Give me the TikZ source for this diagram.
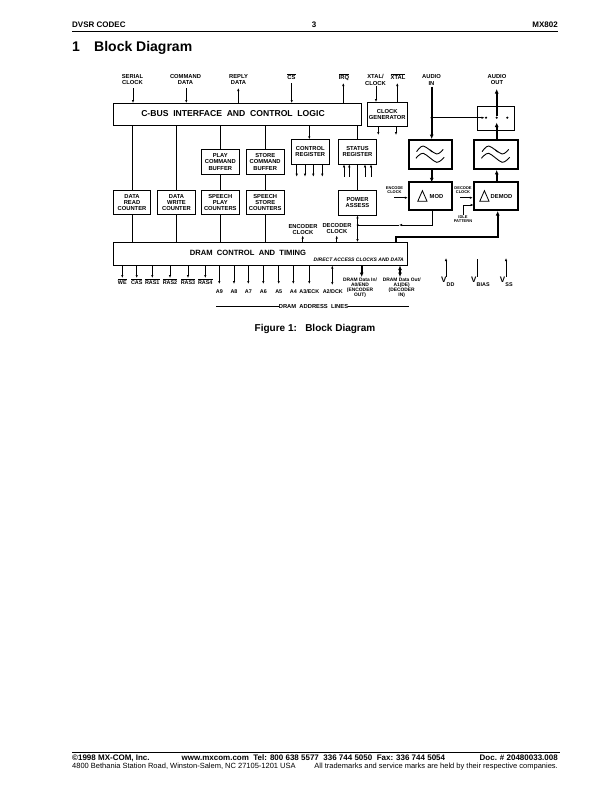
\documentclass[tikz,border=0pt]{standalone}
\usepackage{fontspec}
\setmainfont{Liberation Sans}
\usetikzlibrary{arrows.meta}
\newcommand{\ovbar}[1]{$\overline{\mbox{#1}}$}
\begin{document}
\begin{tikzpicture}[
    x=1pt, y=-1pt,
    tip/.tip={Latex[length=3pt,width=2.4pt]},
    bigtip/.tip={Latex[length=4.5pt,width=4pt]},
    block/.style={draw, line width=0.8pt, inner sep=0pt, align=center, font=\fontsize{5.8}{6.3}\selectfont\bfseries},
    thickblock/.style={draw, line width=1.8pt, inner sep=0pt},
    sig/.style={line width=0.6pt},
    sigfat/.style={line width=1.9pt},
    lab/.style={inner sep=0pt, align=center, font=\fontsize{5.8}{6.3}\selectfont\bfseries},
    tinylab/.style={inner sep=0pt, align=center, font=\fontsize{4}{4.6}\selectfont\bfseries},
    contact/.style={circle, fill=black, minimum size=2.4pt, inner sep=0pt},
    wavesym/.pic={
      \draw[line width=0.9pt] plot[smooth] coordinates {(-13.8,-2.8) (-7.2,-8.5) (6.2,-0.5) (12.8,-5.2)};
      \draw[line width=0.9pt] plot[smooth] coordinates {(-14.5,3.8) (-7.2,-1.2) (6.2,7.8) (13.8,2.8)};
      \draw[line width=0.9pt] (-0.5,-4.5) -- (2,-2.5);
    },
    deltasym/.pic={
      \draw[line width=0.8pt] (-4.6,5.3) -- (4.6,5.3) -- (0,-5.2) -- cycle;
    }
]
  \useasboundingbox (0,0) rectangle (612,792);

  % page head
  \node[anchor=base west, inner sep=0pt, font=\fontsize{8}{8}\selectfont\bfseries] (headl) at (72,28) {DVSR CODEC};
  \node[anchor=base, inner sep=0pt, font=\fontsize{8}{8}\selectfont\bfseries] (headm) at (314,28) {3};
  \node[anchor=base east, inner sep=0pt, font=\fontsize{8}{8}\selectfont\bfseries] (headr) at (558,28) {MX802};
  \draw[line width=0.8pt] (72,31) -- (558,31);
  \node[anchor=base west, inner sep=0pt, font=\fontsize{14}{15}\selectfont\bfseries] (secno) at (72,52) {1};
  \node[anchor=base west, inner sep=0pt, font=\fontsize{14}{15}\selectfont\bfseries] (sectitle) at (94,52) {Block Diagram};

  % main blocks
  \node[block, minimum width=248.5pt, minimum height=22.5pt] (cbus) at (237.25,114.25) {};
  \node[lab, font=\fontsize{8.6}{9}\selectfont\bfseries] (cbustxt) at (233,114) {C-BUS\ \ INTERFACE\ \ AND\ \ CONTROL\ \ LOGIC};
  \node[block, minimum width=40pt, minimum height=24.7pt] (clkgen) at (387.2,114.4) {CLOCK\\GENERATOR};
  \node[block, minimum width=37pt, minimum height=23.3pt] (swbox) at (495.5,118.4) {};
  \node[block, minimum width=294.5pt, minimum height=23pt] (dram) at (260.25,254) {};
  \node[lab, font=\fontsize{7.6}{9}\selectfont\bfseries] (dramtxt) at (248,253) {DRAM\ \ CONTROL\ \ AND\ \ TIMING};
  \node[anchor=east, inner sep=0pt, font=\fontsize{5}{5}\selectfont\bfseries\itshape] (direct) at (404,259.7) {DIRECT ACCESS CLOCKS AND DATA};

  \node[block, minimum width=37.5pt, minimum height=24.4pt] (dread) at (132,202.5) {DATA\\READ\\COUNTER};
  \node[block, minimum width=38.4pt, minimum height=24.4pt] (dwrite) at (176.5,202.5) {DATA\\WRITE\\COUNTER};
  \node[block, minimum width=38pt, minimum height=24.4pt] (splay) at (220.3,202.5) {SPEECH\\PLAY\\COUNTERS};
  \node[block, minimum width=37.7pt, minimum height=24.4pt] (sstore) at (265.2,202.5) {SPEECH\\STORE\\COUNTERS};
  \node[block, minimum width=38pt, minimum height=25pt] (pcmd) at (220.3,161.8) {PLAY\\COMMAND\\BUFFER};
  \node[block, minimum width=37.7pt, minimum height=25pt] (scmd) at (265.2,161.8) {STORE\\COMMAND\\BUFFER};
  \node[block, minimum width=38pt, minimum height=25pt] (ctrl) at (310.3,151.8) {CONTROL\\REGISTER};
  \node[block, minimum width=38.4pt, minimum height=25pt] (stat) at (357.5,151.8) {STATUS\\REGISTER};
  \node[block, minimum width=38.4pt, minimum height=24.4pt] (power) at (357.5,202.8) {POWER\\ASSESS};

  \node[thickblock, minimum width=43.3pt, minimum height=29pt] (modf) at (430.4,154.5) {};
  \node[thickblock, minimum width=44.3pt, minimum height=29pt] (demodf) at (495.9,154.5) {};
  \node[thickblock, minimum width=43.3pt, minimum height=28.3pt] (mod) at (430.4,195.9) {};
  \node[thickblock, minimum width=44.3pt, minimum height=28.3pt] (demod) at (495.9,195.9) {};
  \pic at (modf) {wavesym};
  \pic at (demodf) {wavesym};
  \pic at (422.4,195.9) {deltasym};
  \pic at (484.4,195.9) {deltasym};
  \node[lab] (modtxt) at (436.5,196.7) {MOD};
  \node[lab] (demodtxt) at (501.5,196.7) {DEMOD};

  % analogue switch contacts
  \node[contact] (c1) at (486,117.7) {};
  \node[contact] (c2) at (496.7,117.7) {};
  \node[contact] (c3) at (507.3,117.7) {};

  % signals along the top
  \node[lab] (lserial) at (132.5,79.8) {SERIAL\\CLOCK};
  \node[lab] (lcmd) at (185.5,79.8) {COMMAND\\DATA};
  \node[lab] (lreply) at (238.5,79.8) {REPLY\\DATA};
  \node[lab] (lcs) at (291.5,77) {\ovbar{CS}};
  \node[lab] (lirq) at (344,77) {\ovbar{IRQ}};
  \node[lab] (lxtalc) at (375.5,79.8) {XTAL/\\CLOCK};
  \node[lab] (lxtal) at (398,77) {\ovbar{XTAL}};
  \node[lab] (lain) at (431.5,80) {AUDIO\\IN};
  \node[lab] (laout) at (497,79.8) {AUDIO\\OUT};

  \draw[sig, -tip] (133,88) -- (133,103);
  \draw[sig, -tip] (186.3,88) -- (186.3,103);
  \draw[sig, -tip] (238.3,103) -- (238.3,88);
  \draw[sig, -tip] (291.7,83) -- (291.7,103);
  \draw[sig, -tip] (343.3,103) -- (343.3,83);
  \draw[sig, -tip] (376,86) -- (376,102);
  \draw[sig, -tip] (397.3,102) -- (397.3,83);
  \draw[sig, -tip] (378.3,126.7) -- (378.3,135);
  \draw[sig, -tip] (396,126.7) -- (396,135);

  % audio paths
  \coordinate (ain) at (431.7,86.5);
  \coordinate (aout) at (496.7,89);
  \coordinate (ajn) at (431.7,117.7);
  \draw[sigfat, -bigtip] (ain) -- (ain |- modf.north);
  \draw[sig, -tip] (ajn) -- (c1);
  \fill (ajn) circle (1.4pt);
  \draw[sigfat, -bigtip] (c2) -- (aout);
  \draw[sigfat, -bigtip] (demodf.north -| c2) -- (496.7,122.5);
  \draw[sigfat, -bigtip] (modf.south) ++(1.3,0) -- ++(0,12.5);
  \draw[sigfat, -bigtip] (demod.north -| c2) -- (demodf.south -| c2);

  % links from the bus interface
  \draw[sig] (cbus.south -| dread) -- (dread);
  \draw[sig] (cbus.south -| dwrite) -- (dwrite);
  \draw[sig] (cbus.south -| pcmd) -- (pcmd);
  \draw[sig] (cbus.south -| scmd) -- (scmd);
  \draw[sig] (pcmd) -- (splay);
  \draw[sig] (scmd) -- (sstore);
  \draw[sig] (dread) -- (dread |- dram.north);
  \draw[sig] (dwrite) -- (dwrite |- dram.north);
  \draw[sig] (splay) -- (splay |- dram.north);
  \draw[sig] (sstore) -- (sstore |- dram.north);
  \draw[sig, -tip] (309.3,125.5) -- (309.3,139.3);
  \draw[sig] (cbus.south -| stat) -- (stat);
  \draw[sig] (stat) -- (power);

  % register fan out
  \foreach \xa in {296.7,305,313.3,322.3}
    \draw[sig, -tip] (\xa,164.3) -- (\xa,176.7);
  \foreach \xa in {344,349.3,365,371}
    \draw[sig, -tip] (\xa,176.7) -- (\xa,164.3);

  % clocks into the modulators
  \node[tinylab] (lenc) at (394.5,190) {ENCODE\\CLOCK};
  \node[tinylab] (ldec) at (463,190) {DECODE\\CLOCK};
  \node[tinylab] (lidle) at (463,219) {IDLE\\PATTERN};
  \coordinate (enc) at (394,197.7);
  \coordinate (dec) at (460,197.7);
  \draw[sig, -tip] (enc) -- (enc -| mod.west);
  \draw[sig, -tip] (dec) -- (dec -| demod.west);
  \draw[sig, -tip] (463.3,214.5) -- (463.3,205) -- (473.7,205);

  % return paths to the dram block
  \coordinate (jn) at (357.7,225);
  \coordinate (modo) at (432.3,210);
  \draw[sig, -tip] (modo) -- (432.3,225) -- (399,225);
  \draw[sig] (399,225) -- (jn);
  \draw[sig, tip-tip] (power.south) -- (power.south |- dram.north);
  \fill (jn) circle (1.1pt);
  \draw[sigfat, -bigtip] (395.7,242.5) -- (395.7,236.7) -- (497.7,236.7) -- (497.7,211);

  \node[lab] (lencc) at (303,229.5) {ENCODER\\CLOCK};
  \node[lab] (ldecc) at (337,228.5) {DECODER\\CLOCK};
  \draw[sig, -tip] (302.7,242.5) -- (302.7,235.5);
  \draw[sig, -tip] (336.7,242.5) -- (336.7,235.5);

  % control lines under the dram block
  \foreach \xa/\txt in {122.3/WE,136.7/CAS,152.3/RAS1,170/RAS2,188/RAS3,205.3/RAS4}
    {
    \draw[sig, -tip] (\xa,265.5) -- (\xa,278);
    \node[lab, anchor=base, font=\fontsize{5.4}{6}\selectfont\bfseries] at (\xa,284) {\ovbar{\txt}};
    }
  % address lines
  \foreach \xa/\txt in {219.3/A9,234/A8,248.3/A7,263.3/A6,278.7/A5,293.3/A4,309.3/A3\slash ECK}
    {
    \draw[sig, -tip] (\xa,265.5) -- (\xa,284);
    \node[lab, anchor=base, font=\fontsize{5.4}{6}\selectfont\bfseries] at (\xa,293) {\txt};
    }
  \draw[sig, tip-tip] (332.3,265.5) -- (332.3,285);
  \node[lab, anchor=base, font=\fontsize{5.4}{6}\selectfont\bfseries] (la2) at (332.8,293) {A2/DCK};

  \draw[sigfat, -bigtip] (361.7,265.5) -- (361.7,277);
  \draw[sigfat, bigtip-bigtip] (400,265.5) -- (400,277);
  \node[tinylab, font=\fontsize{4.9}{5}\selectfont\bfseries] (ldin) at (360,288) {DRAM Data In/\\A0/END\\(ENCODER\\OUT)};
  \node[tinylab, font=\fontsize{4.9}{5}\selectfont\bfseries] (ldout) at (401.7,288) {DRAM Data Out/\\A1(DE)\\(DECODER\\IN)};

  % supplies
  \foreach \xa/\name/\sub in {443/vdd/DD,473/vbias/BIAS,501.7/vss/SS}
    {
    \node[anchor=west, inner sep=0pt, font=\fontsize{8}{9}\selectfont\bfseries] (\name) at (\xa-2,279.5) {V};
    \node[anchor=west, inner sep=0pt, font=\fontsize{5.4}{6}\selectfont\bfseries] at (\xa+3.5,284.5) {\sub};
    }
  \draw[sig, -tip] (446,277) -- (446,258);
  \draw[sig] (477.3,277) -- (477.3,259);
  \draw[sig, -tip] (506,277) -- (506,258);

  % address bracket
  \node[lab, font=\fontsize{5.8}{6}\selectfont\bfseries] (laddr) at (313.5,306) {DRAM\ \ ADDRESS\ \ LINES};
  \coordinate (addrl) at (216,306);
  \coordinate (addrr) at (408.7,306);
  \draw[sig] (addrl) -- (laddr.west);
  \draw[sig] (laddr.east) -- (addrr);

  \node[inner sep=0pt, font=\fontsize{10}{10}\selectfont\bfseries] (caption) at (315,329) {Figure 1:\ \ \ Block Diagram};

  % page foot
  \draw[line width=0.8pt] (72,752.5) -- (560,752.5);
  \node[anchor=base west, inner sep=0pt, font=\fontsize{8}{8}\selectfont\bfseries] (foota) at (72,760.3) {©1998 MX-COM, Inc.};
  \node[anchor=base west, inner sep=0pt, font=\fontsize{8}{8}\selectfont\bfseries] (footb) at (181.5,760.3) {www.mxcom.com\ \ Tel: 800 638 5577\ \ 336 744 5050\ \ Fax: 336 744 5054};
  \node[anchor=base east, inner sep=0pt, font=\fontsize{8}{8}\selectfont\bfseries] (footc) at (558,760.3) {Doc. \# 20480033.008};
  \node[anchor=base west, inner sep=0pt, font=\fontsize{7.5}{8}\selectfont] (footd) at (72,768) {4800 Bethania Station Road, Winston-Salem, NC 27105-1201 USA};
  \node[anchor=base east, inner sep=0pt, font=\fontsize{7.5}{8}\selectfont] (foote) at (558,768) {All trademarks and service marks are held by their respective companies.};
\end{tikzpicture}
\end{document}
